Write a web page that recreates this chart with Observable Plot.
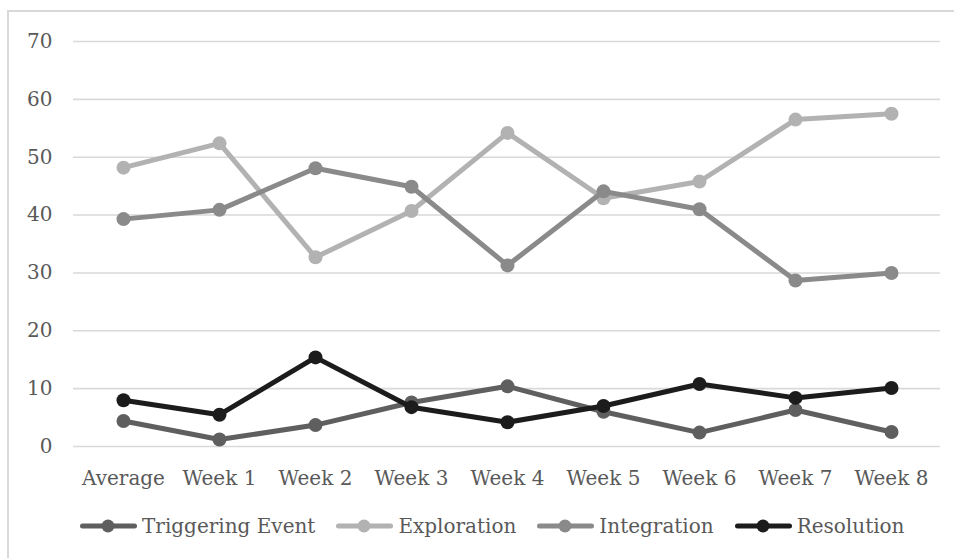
<!DOCTYPE html>
<html><head><meta charset="utf-8">
<script src="https://cdn.jsdelivr.net/npm/d3@7"></script>
<script src="https://cdn.jsdelivr.net/npm/@observablehq/plot@0.6"></script>
<style>
html,body{margin:0;padding:0;background:#fff;}
body{width:954px;height:558px;overflow:hidden;position:relative;font-family:"DejaVu Serif",serif;}
#frame{position:absolute;left:7px;top:10px;width:1000px;height:600px;border:2px solid #d9d9d9;box-sizing:border-box;}
#chart{position:absolute;left:0;top:0;}
#legend{position:absolute;left:80px;top:514px;display:flex;align-items:center;gap:21px;font-size:20px;color:#595959;white-space:nowrap;}
.item{display:flex;align-items:center;}
.item span{margin-left:5px;}
</style>
</head><body>
<div id="frame"></div>
<div id="chart"></div>
<div id="legend"></div>
<script>
const categories = ["Average","Week 1","Week 2","Week 3","Week 4","Week 5","Week 6","Week 7","Week 8"];
const seriesNames = ["Triggering Event","Exploration","Integration","Resolution"];
const seriesColors = ["#5f5f5f","#b2b2b2","#8a8a8a","#1c1c1c"];
const triggering = [4.4, 1.2, 3.7, 7.6, 10.4, 6.0, 2.4, 6.3, 2.5];
const exploration = [48.2, 52.4, 32.7, 40.7, 54.2, 42.9, 45.8, 56.5, 57.5];
const integration = [39.3, 40.9, 48.1, 44.9, 31.3, 44.1, 41.0, 28.7, 30.0];
const resolution = [8.0, 5.5, 15.4, 6.8, 4.2, 7.0, 10.8, 8.4, 10.1];
const yTicks = [0,10,20,30,40,50,60,70];

const values = [triggering, exploration, integration, resolution];
const rows = [];
seriesNames.forEach((s,i) => categories.forEach((c,j) => rows.push({series:s, category:c, value:values[i][j]})));

const plot = Plot.plot({
  width: 954, height: 500,
  marginTop: 41, marginBottom: 54, marginLeft: 73, marginRight: 14,
  style: {fontFamily: "'DejaVu Serif', serif", fontSize: "20px", color: "#595959", background: "transparent", overflow: "visible"},
  x: {type: "point", domain: categories, padding: 0.5, label: null},
  y: {domain: [0, 70], label: null},
  color: {domain: seriesNames, range: seriesColors},
  marks: [
    Plot.gridY(yTicks, {stroke: "#d9d9d9", strokeOpacity: 1, strokeWidth: 1.6}),
    Plot.axisY(yTicks, {tickSize: 0, tickPadding: 21, label: null, fill: "#595959"}),
    Plot.axisX({tickSize: 0, tickPadding: 24, label: null, fill: "#595959"}),
    ...seriesNames.flatMap(name => {
      const d = rows.filter(r => r.series === name);
      return [
        Plot.line(d, {x: "category", y: "value", stroke: "series", strokeWidth: 5, strokeLinecap: "round", strokeLinejoin: "round"}),
        Plot.dot(d, {x: "category", y: "value", fill: "series", r: 7})
      ];
    })
  ]
});
document.getElementById("chart").appendChild(plot);

const legend = document.getElementById("legend");
seriesNames.forEach((s,i) => {
  const item = document.createElement("div");
  item.className = "item";
  item.innerHTML = `<svg width="57" height="24"><line x1="2.5" y1="12" x2="54.5" y2="12" stroke="${seriesColors[i]}" stroke-width="5" stroke-linecap="round"/><circle cx="28" cy="12" r="6.5" fill="${seriesColors[i]}"/></svg><span>${s}</span>`;
  legend.appendChild(item);
});
</script>
</body></html>
